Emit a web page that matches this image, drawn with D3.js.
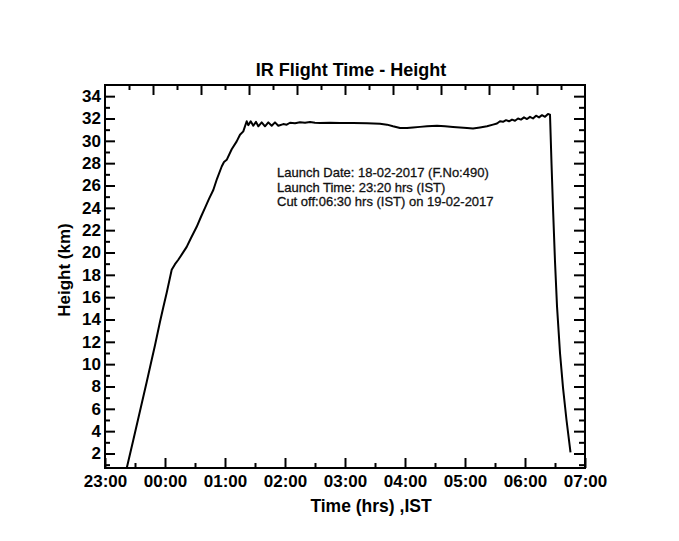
<!DOCTYPE html>
<html>
<head>
<meta charset="utf-8">
<script src="https://cdn.jsdelivr.net/npm/d3@7"></script>
<style>
  html, body { margin: 0; padding: 0; background: #fff; }
  svg { display: block; }
  text { font-family: "Liberation Sans", Arial, sans-serif; }
</style>
</head>
<body>
<script>
// ---- Data ----
// minutes elapsed after 23:00 IST on 18-02-2017
const minutesAfter2300 = [
  21.7, 28.3, 35, 41.7, 46.7, 50, 55, 58.3, 61.7, 66.7, 70, 73.3, 77, 81.7, 86, 91.7,
  96, 100, 104, 108.3, 112, 116.7, 119, 121.7, 126.7, 131.7, 135, 138.3,
  141.7, 143.3, 145.7, 148.3, 151, 153.3, 156.7, 160, 163.3, 166.7, 170, 173.3,
  178.3, 181.7, 185, 190, 195, 200, 205, 210, 215, 225, 235, 248, 262, 275,
  282, 288, 295, 302, 308, 315, 322, 332, 340, 348, 355, 362, 368, 375, 382, 388,
  392, 395, 398, 401, 404, 407, 410, 413, 416, 419, 422, 425, 428, 431, 434, 437,
  440, 443, 445,
  446.5, 448, 450, 452, 455, 458, 461.5, 465.5
];
// height in km
const heightKm = [
  0.67, 3.2, 5.8, 8.4, 10.4, 11.7, 13.8, 15.1, 16.4, 18.45, 18.95, 19.35, 19.85, 20.5, 21.3, 22.3,
  23.2, 24.0, 24.8, 25.6, 26.6, 27.7, 28.1, 28.3, 29.25, 29.95, 30.55, 30.85,
  31.75, 31.4, 31.75, 31.35, 31.7, 31.3, 31.65, 31.3, 31.65, 31.35, 31.65, 31.35,
  31.5, 31.45, 31.62, 31.58, 31.66, 31.62, 31.68, 31.62, 31.6, 31.62, 31.6, 31.6, 31.57, 31.53,
  31.45, 31.3, 31.15, 31.15, 31.2, 31.25, 31.3, 31.36, 31.3, 31.24, 31.2, 31.15, 31.1, 31.2, 31.3, 31.45,
  31.55, 31.75, 31.7, 31.85, 31.75, 31.9, 31.8, 32.0, 31.9, 32.1, 31.95, 32.15, 32.0, 32.25, 32.1, 32.3,
  32.15, 32.4, 32.35,
  28.0, 24.0, 19.2, 15.2, 11.0, 7.9, 5.0, 2.1
];

const yMajorTicks = [2, 4, 6, 8, 10, 12, 14, 16, 18, 20, 22, 24, 26, 28, 30, 32, 34];
const yMinorTicks = [1, 3, 5, 7, 9, 11, 13, 15, 17, 19, 21, 23, 25, 27, 29, 31, 33];
const xTickLabels = ["23:00", "00:00", "01:00", "02:00", "03:00", "04:00", "05:00", "06:00", "07:00"];

const titleText = "IR Flight Time - Height";
const xTitle = "Time (hrs) ,IST";
const yTitle = "Height (km)";
const noteLines = [
  "Launch Date: 18-02-2017 (F.No:490)",
  "Launch Time: 23:20 hrs (IST)",
  "Cut off:06:30 hrs (IST) on 19-02-2017"
];

// ---- Layout ----
const W = 679, H = 541;
const pL = 105, pR = 585, pT = 85, pB = 468;

const base = new Date(2017, 1, 18, 23, 0, 0);
const toDate = m => new Date(base.getTime() + m * 60000);

const x = d3.scaleTime()
  .domain([base, toDate(480)])
  .range([pL, pR]);
const y = d3.scaleLinear().domain([0.7, 35]).range([pB, pT]);
const topScale = d3.scaleLinear().domain([0, 10]).range([pL, pR]);

const svg = d3.select("body").append("svg")
  .attr("width", W).attr("height", H);
svg.append("rect").attr("width", W).attr("height", H).attr("fill", "#fff");

const hourTicks = xTickLabels.map((_, i) => toDate(i * 60));
const halfTicks = xTickLabels.slice(0, -1).map((_, i) => toDate(i * 60 + 30));

function styleAxis(g) {
  g.select(".domain").remove();
  g.selectAll(".tick line").attr("stroke", "#000").attr("stroke-width", 2);
  g.selectAll(".tick text")
    .attr("fill", "#000")
    .style("font-size", "17px")
    .style("font-weight", "bold");
}

// bottom axis
svg.append("g").attr("transform", `translate(0,${pB})`)
  .call(d3.axisBottom(x).tickValues(hourTicks).tickSize(-10).tickPadding(7)
    .tickFormat((d, i) => xTickLabels[i]))
  .call(styleAxis);
svg.append("g").attr("transform", `translate(0,${pB})`)
  .call(d3.axisBottom(x).tickValues(halfTicks).tickSize(-5).tickFormat(""))
  .call(styleAxis);

// top axis (inward ticks only)
svg.append("g").attr("transform", `translate(0,${pT})`)
  .call(d3.axisTop(topScale).tickValues(d3.range(1, 10)).tickSize(-10).tickFormat(""))
  .call(styleAxis);
svg.append("g").attr("transform", `translate(0,${pT})`)
  .call(d3.axisTop(topScale).tickValues(d3.range(0.5, 10, 1)).tickSize(-5).tickFormat(""))
  .call(styleAxis);

// left axis
svg.append("g").attr("transform", `translate(${pL},0)`)
  .call(d3.axisLeft(y).tickValues(yMajorTicks).tickSize(-10).tickPadding(4))
  .call(styleAxis);
svg.append("g").attr("transform", `translate(${pL},0)`)
  .call(d3.axisLeft(y).tickValues(yMinorTicks).tickSize(-5).tickFormat(""))
  .call(styleAxis);

// right axis
svg.append("g").attr("transform", `translate(${pR},0)`)
  .call(d3.axisRight(y).tickValues(yMajorTicks).tickSize(-11).tickFormat(""))
  .call(styleAxis);
svg.append("g").attr("transform", `translate(${pR},0)`)
  .call(d3.axisRight(y).tickValues(yMinorTicks).tickSize(-6).tickFormat(""))
  .call(styleAxis);

// frame
svg.append("rect")
  .attr("x", pL).attr("y", pT)
  .attr("width", pR - pL).attr("height", pB - pT)
  .attr("fill", "none").attr("stroke", "#000").attr("stroke-width", 2);

// data line
const pts = minutesAfter2300.map((m, i) => ({ t: toDate(m), h: heightKm[i] }));
const line = d3.line().x(d => x(d.t)).y(d => y(d.h));
svg.append("path")
  .datum(pts)
  .attr("d", line)
  .attr("fill", "none")
  .attr("stroke", "#000")
  .attr("stroke-width", 2)
  .attr("stroke-linejoin", "round");

// title
svg.append("text")
  .attr("x", 351).attr("y", 76)
  .attr("text-anchor", "middle")
  .style("font-size", "18px").style("font-weight", "bold")
  .text(titleText);

// x title
svg.append("text")
  .attr("x", 371).attr("y", 512)
  .attr("text-anchor", "middle")
  .style("font-size", "17.5px").style("font-weight", "bold")
  .text(xTitle);

// y title
svg.append("text")
  .attr("transform", "translate(70,270) rotate(-90)")
  .attr("text-anchor", "middle")
  .style("font-size", "17px").style("font-weight", "bold")
  .text(yTitle);

// annotation
noteLines.forEach((s, i) => {
  svg.append("text")
    .attr("x", 277).attr("y", 177 + i * 14.5)
    .style("font-size", "13px")
    .attr("fill", "#111")
    .attr("stroke", "#111")
    .attr("stroke-width", 0.3)
    .text(s);
});
</script>
</body>
</html>
